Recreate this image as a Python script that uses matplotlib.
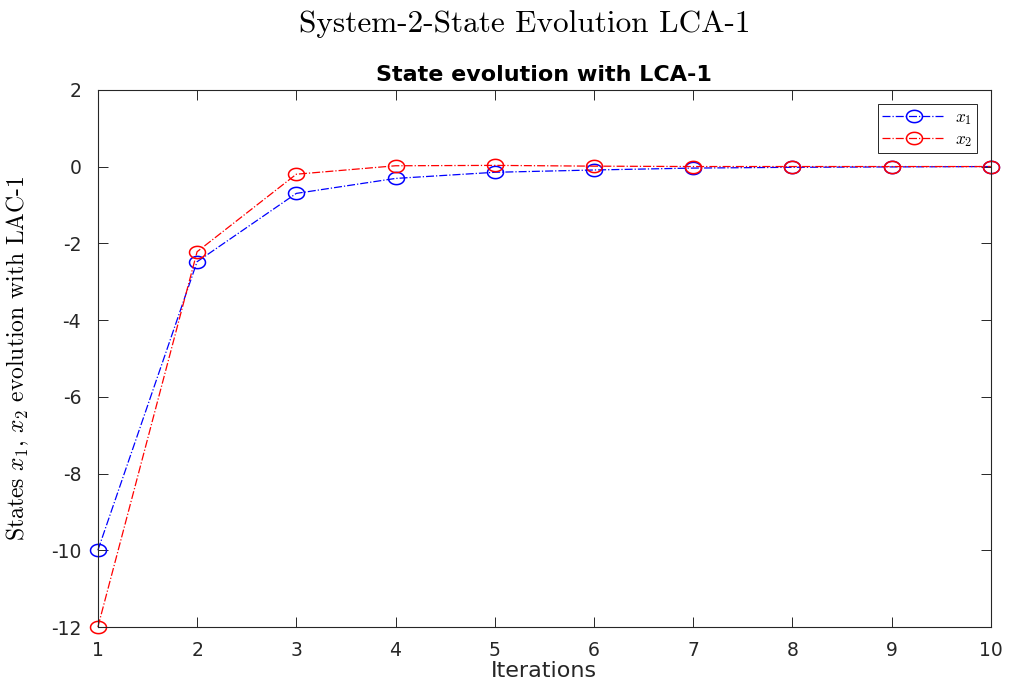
import matplotlib
matplotlib.use("Agg")
import matplotlib.pyplot as plt
from matplotlib.path import Path
import numpy as np

iterations = [1, 2, 3, 4, 5, 6, 7, 8, 9, 10]
x1 = [-10.0, -2.48, -0.70, -0.31, -0.15, -0.09, -0.04, -0.02, -0.01, 0.0]
x2 = [-12.0, -2.22, -0.20, 0.02, 0.03, 0.01, 0.0, 0.0, 0.0, 0.0]

plt.rcParams['font.family'] = ['DejaVu Sans']
plt.rcParams['mathtext.fontset'] = 'cm'

# MATLAB-style slightly flattened circle marker
t = np.linspace(0, 2 * np.pi, 60)
ellipse = Path(np.column_stack([1.3 * np.cos(t), np.sin(t)]), closed=True)

dark = '#262626'

fig = plt.figure(figsize=(10.09, 6.87), dpi=100)
ax = fig.add_axes([0.097, 0.0873, 0.885, 0.782])

ax.plot(iterations, x1, color=(0, 0, 1), linestyle='-.', linewidth=0.9,
        marker=ellipse, markersize=11.5, markerfacecolor='none',
        markeredgewidth=1.1, label='$x_1$', clip_on=False)
ax.plot(iterations, x2, color=(1, 0, 0), linestyle='-.', linewidth=0.9,
        marker=ellipse, markersize=11.5, markerfacecolor='none',
        markeredgewidth=1.1, label='$x_2$', clip_on=False)

ax.set_xlim(1, 10)
ax.set_ylim(-12, 2)
ax.set_xticks(range(1, 11))
ax.set_yticks(range(-12, 3, 2))
ax.set_yticklabels([str(v) for v in range(-12, 3, 2)])
ax.tick_params(direction='in', top=True, right=True, labelsize=13.5, length=7,
               width=0.7, colors=dark, labelcolor=dark)
ax.tick_params(axis='x', pad=10)
ax.tick_params(axis='y', pad=12)
for s in ax.spines.values():
    s.set_linewidth(0.8)
    s.set_color(dark)

ax.set_title('State evolution with LCA-1', fontsize=16, fontweight='bold', pad=6)
ax.set_xlabel('Iterations', fontsize=16, labelpad=1, color=dark)
ax.set_ylabel('States $x_1$, $x_2$ evolution with LAC-1', fontsize=17,
              family='cmr10', labelpad=14)
fig.suptitle('System-2-State Evolution LCA-1', fontsize=22.5, family='cmr10',
             x=0.52, y=0.985)

leg = ax.legend(loc='upper right', fontsize=12.5, fancybox=False, edgecolor=dark,
                framealpha=1, handlelength=3.6, borderaxespad=0.8,
                borderpad=0.25, labelspacing=0.15, handletextpad=0.6)
leg.get_frame().set_linewidth(0.7)

fig.savefig('out.png', dpi=100)
